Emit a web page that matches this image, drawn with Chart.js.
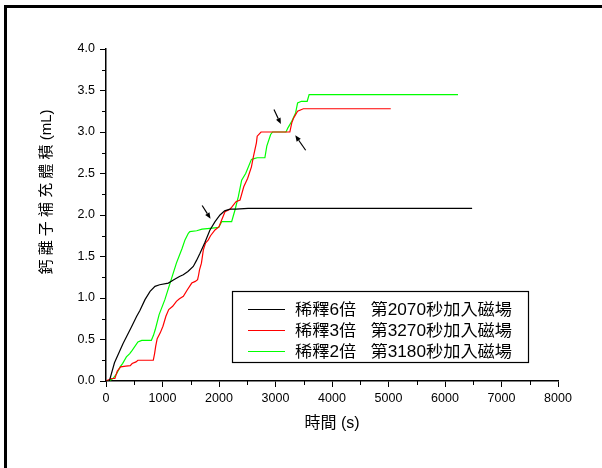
<!DOCTYPE html>
<html>
<head>
<meta charset="utf-8">
<script src="https://cdn.jsdelivr.net/npm/chart.js@4.4.1/dist/chart.umd.min.js"></script>
<style>
  html, body { margin: 0; padding: 0; background: #fff; }
  #wrap { position: relative; width: 602px; height: 468px; overflow: hidden; }
  #frame { position: absolute; left: 4px; top: 5px; width: 700px; height: 600px;
           border-left: 3px solid #000; border-top: 3px solid #000; }
  #chart_dest { position: absolute; left: 0; top: 0; }
</style>
</head>
<body>
<div id="wrap">
  <div id="frame"></div>
  <canvas id="chart_dest" width="602" height="468"></canvas>
</div>
<script>
// series: time (s) and refilled volume (mL)
var labels6x = "稀釋6倍   第2070秒加入磁場";
var time6x = [0, 60, 150, 300, 450, 543, 600, 690, 780, 867, 950, 1103, 1200, 1300, 1368, 1450, 1545, 1600, 1664, 1750, 1840, 1930, 2018, 2100, 2195, 2300, 2513, 6480];
var vol6x  = [0, 0, 0.22, 0.45, 0.65, 0.78, 0.85, 0.98, 1.08, 1.14, 1.16, 1.18, 1.22, 1.26, 1.28, 1.32, 1.38, 1.45, 1.54, 1.67, 1.82, 1.92, 2.0, 2.05, 2.07, 2.07, 2.08, 2.08];

var labels3x = "稀釋3倍   第3270秒加入磁場";
var time3x = [0, 100, 157, 200, 259, 350, 429, 463, 531, 565, 700, 837, 860, 880, 906, 960, 1008, 1060, 1110, 1180, 1246, 1300, 1369, 1440, 1518, 1580, 1621, 1640, 1655, 1689, 1723, 1760, 1811, 1850, 1929, 2000, 2047, 2106, 2195, 2233, 2301, 2372, 2438, 2506, 2574, 2608, 2662, 2676, 2744, 3254, 3288, 3322, 3391, 3493, 3561, 5040];
var vol3x  = [0, 0.03, 0.03, 0.12, 0.17, 0.18, 0.185, 0.21, 0.23, 0.25, 0.25, 0.25, 0.33, 0.42, 0.51, 0.58, 0.66, 0.78, 0.86, 0.9, 0.96, 0.99, 1.02, 1.1, 1.18, 1.2, 1.22, 1.28, 1.34, 1.42, 1.58, 1.66, 1.70, 1.75, 1.82, 1.86, 1.94, 2.04, 2.07, 2.10, 2.16, 2.18, 2.34, 2.44, 2.58, 2.70, 2.87, 2.95, 3.0, 3.0, 3.11, 3.17, 3.25, 3.28, 3.28, 3.28];

var labels2x = "稀釋2倍   第3180秒加入磁場";
var time2x = [0, 80, 123, 191, 250, 293, 361, 420, 463, 565, 633, 700, 803, 840, 872, 940, 1042, 1144, 1246, 1348, 1398, 1457, 1484, 1605, 1700, 1840, 1995, 2047, 2120, 2224, 2283, 2342, 2401, 2472, 2574, 2620, 2676, 2812, 2846, 2914, 2948, 3186, 3220, 3288, 3356, 3391, 3459, 3561, 3595, 6230];
var vol2x  = [0, 0.01, 0.03, 0.09, 0.17, 0.21, 0.29, 0.33, 0.37, 0.47, 0.49, 0.49, 0.49, 0.55, 0.62, 0.80, 0.98, 1.20, 1.42, 1.60, 1.70, 1.78, 1.80, 1.81, 1.83, 1.84, 1.85, 1.92, 1.92, 1.92, 2.06, 2.22, 2.42, 2.50, 2.67, 2.68, 2.69, 2.69, 2.83, 2.97, 3.0, 3.0, 3.05, 3.13, 3.23, 3.35, 3.37, 3.37, 3.45, 3.45];

// arrows marking when the magnet went in: [tailX, tailY, headX, headY]
var arrows = [
  [1702, 2.115, 1850, 1.955],
  [2973, 3.27, 3095, 3.095],
  [3534, 2.78, 3350, 2.96]
];

var yTitle = '鈣 離 子 補 充 體 積 (mL)';
var xTitle = '時間 (s)';

function toPoints(xs, ys) {
  return xs.map(function (x, i) { return { x: x, y: ys[i] }; });
}

var fontLatin = "'Liberation Sans', Arial, 'Noto Sans CJK TC'";

// short minor tick marks between the labelled ones
var minorTicks = {
  id: 'minorTicks',
  afterDraw: function (chart) {
    var ctx = chart.ctx, xs = chart.scales.x, ys = chart.scales.y;
    ctx.save();
    ctx.strokeStyle = '#000';
    ctx.lineWidth = 1;
    ctx.beginPath();
    for (var v = 0.25; v < 4; v += 0.5) {
      var py = Math.round(ys.getPixelForValue(v)) + 0.5;
      ctx.moveTo(ys.right - 4, py); ctx.lineTo(ys.right, py);
    }
    for (var t = 500; t < 8000; t += 1000) {
      var px = Math.round(xs.getPixelForValue(t)) + 0.5;
      ctx.moveTo(px, xs.top); ctx.lineTo(px, xs.top + 4);
    }
    ctx.stroke();
    ctx.restore();
  }
};

// y title sits a bit above the axis middle
var sideTitle = {
  id: 'sideTitle',
  afterDraw: function (chart) {
    var ctx = chart.ctx;
    ctx.save();
    ctx.translate(46.5, 192);
    ctx.rotate(-Math.PI / 2);
    ctx.font = '15px ' + fontLatin;
    ctx.fillStyle = '#000';
    ctx.textAlign = 'center';
    ctx.textBaseline = 'middle';
    ctx.fillText(yTitle, 0, 0);
    ctx.restore();
  }
};

var arrowMarks = {
  id: 'arrowMarks',
  afterDatasetsDraw: function (chart) {
    var ctx = chart.ctx, xs = chart.scales.x, ys = chart.scales.y;
    ctx.save();
    ctx.strokeStyle = '#000';
    ctx.fillStyle = '#000';
    ctx.lineWidth = 1.2;
    arrows.forEach(function (a) {
      var x0 = xs.getPixelForValue(a[0]), y0 = ys.getPixelForValue(a[1]);
      var x1 = xs.getPixelForValue(a[2]), y1 = ys.getPixelForValue(a[3]);
      var ang = Math.atan2(y1 - y0, x1 - x0), len = 6, w = 2.5;
      var bx = x1 - len * Math.cos(ang), by = y1 - len * Math.sin(ang);
      ctx.beginPath();
      ctx.moveTo(x0, y0); ctx.lineTo(bx, by);
      ctx.stroke();
      ctx.beginPath();
      ctx.moveTo(x1, y1);
      ctx.lineTo(bx + w * Math.sin(ang), by - w * Math.cos(ang));
      ctx.lineTo(bx - w * Math.sin(ang), by + w * Math.cos(ang));
      ctx.closePath();
      ctx.fill();
    });
    ctx.restore();
  }
};

// boxed legend inside the plot
var boxLegend = {
  id: 'boxLegend',
  afterDraw: function (chart) {
    var ctx = chart.ctx;
    var bx = 232.5, by = 291.5, bw = 296, bh = 71;
    var textW = 217;
    ctx.save();
    ctx.strokeStyle = '#000';
    ctx.lineWidth = 1.2;
    ctx.strokeRect(bx, by, bw, bh);
    ctx.font = '16px ' + fontLatin;
    ctx.textBaseline = 'middle';
    ctx.fillStyle = '#000';
    chart.data.datasets.forEach(function (ds, i) {
      var ry = 309.5 + i * 21;
      ctx.strokeStyle = ds.borderColor;
      ctx.lineWidth = 1.2;
      ctx.beginPath();
      ctx.moveTo(248, ry); ctx.lineTo(285, ry);
      ctx.stroke();
      var sx = textW / ctx.measureText(ds.label).width;
      ctx.save();
      ctx.translate(295, ry + 1);
      ctx.scale(sx, 1);
      ctx.fillText(ds.label, 0, 0);
      ctx.restore();
    });
    ctx.restore();
  }
};

var ctx = document.getElementById("chart_dest");

var myChart = new Chart(ctx, {
  type: 'line',
  data: {
    datasets: [
      { label: labels6x, data: toPoints(time6x, vol6x), borderColor: '#000000', borderWidth: 1.2 },
      { label: labels3x, data: toPoints(time3x, vol3x), borderColor: '#ff0000', borderWidth: 1.2 },
      { label: labels2x, data: toPoints(time2x, vol2x), borderColor: '#00ff00', borderWidth: 1.2 }
    ]
  },
  options: {
    responsive: false,
    animation: false,
    devicePixelRatio: 1,
    layout: { padding: { top: 49, right: 44, bottom: 0, left: 37 } },
    elements: { point: { radius: 0 }, line: { tension: 0 } },
    plugins: { legend: { display: false }, tooltip: { enabled: false } },
    scales: {
      x: {
        type: 'linear',
        min: 0, max: 8000,
        afterFit: function (s) { s.height = 87; },
        border: { display: true, color: '#000', width: 1.5 },
        grid: { drawOnChartArea: false, drawTicks: true, tickLength: 6, tickColor: '#000' },
        ticks: { stepSize: 1000, color: '#000', padding: 4, maxRotation: 0,
                 callback: function (v) { return String(v); },
                 font: { family: fontLatin, size: 12.5 } },
        title: { display: true, text: xTitle, color: '#000',
                 font: { family: fontLatin, size: 16 }, padding: { top: 0, bottom: 35 } }
      },
      y: {
        type: 'linear',
        min: 0, max: 4,
        afterFit: function (s) { s.width = 69; },
        border: { display: true, color: '#000', width: 1.5 },
        grid: { drawOnChartArea: false, drawTicks: true, tickLength: 6, tickColor: '#000' },
        ticks: { stepSize: 0.5, color: '#000', padding: 5,
                 callback: function (v) { return v.toFixed(1); },
                 font: { family: fontLatin, size: 12.5 } }
      }
    }
  },
  plugins: [minorTicks, sideTitle, arrowMarks, boxLegend]
});
</script>
</body>
</html>
